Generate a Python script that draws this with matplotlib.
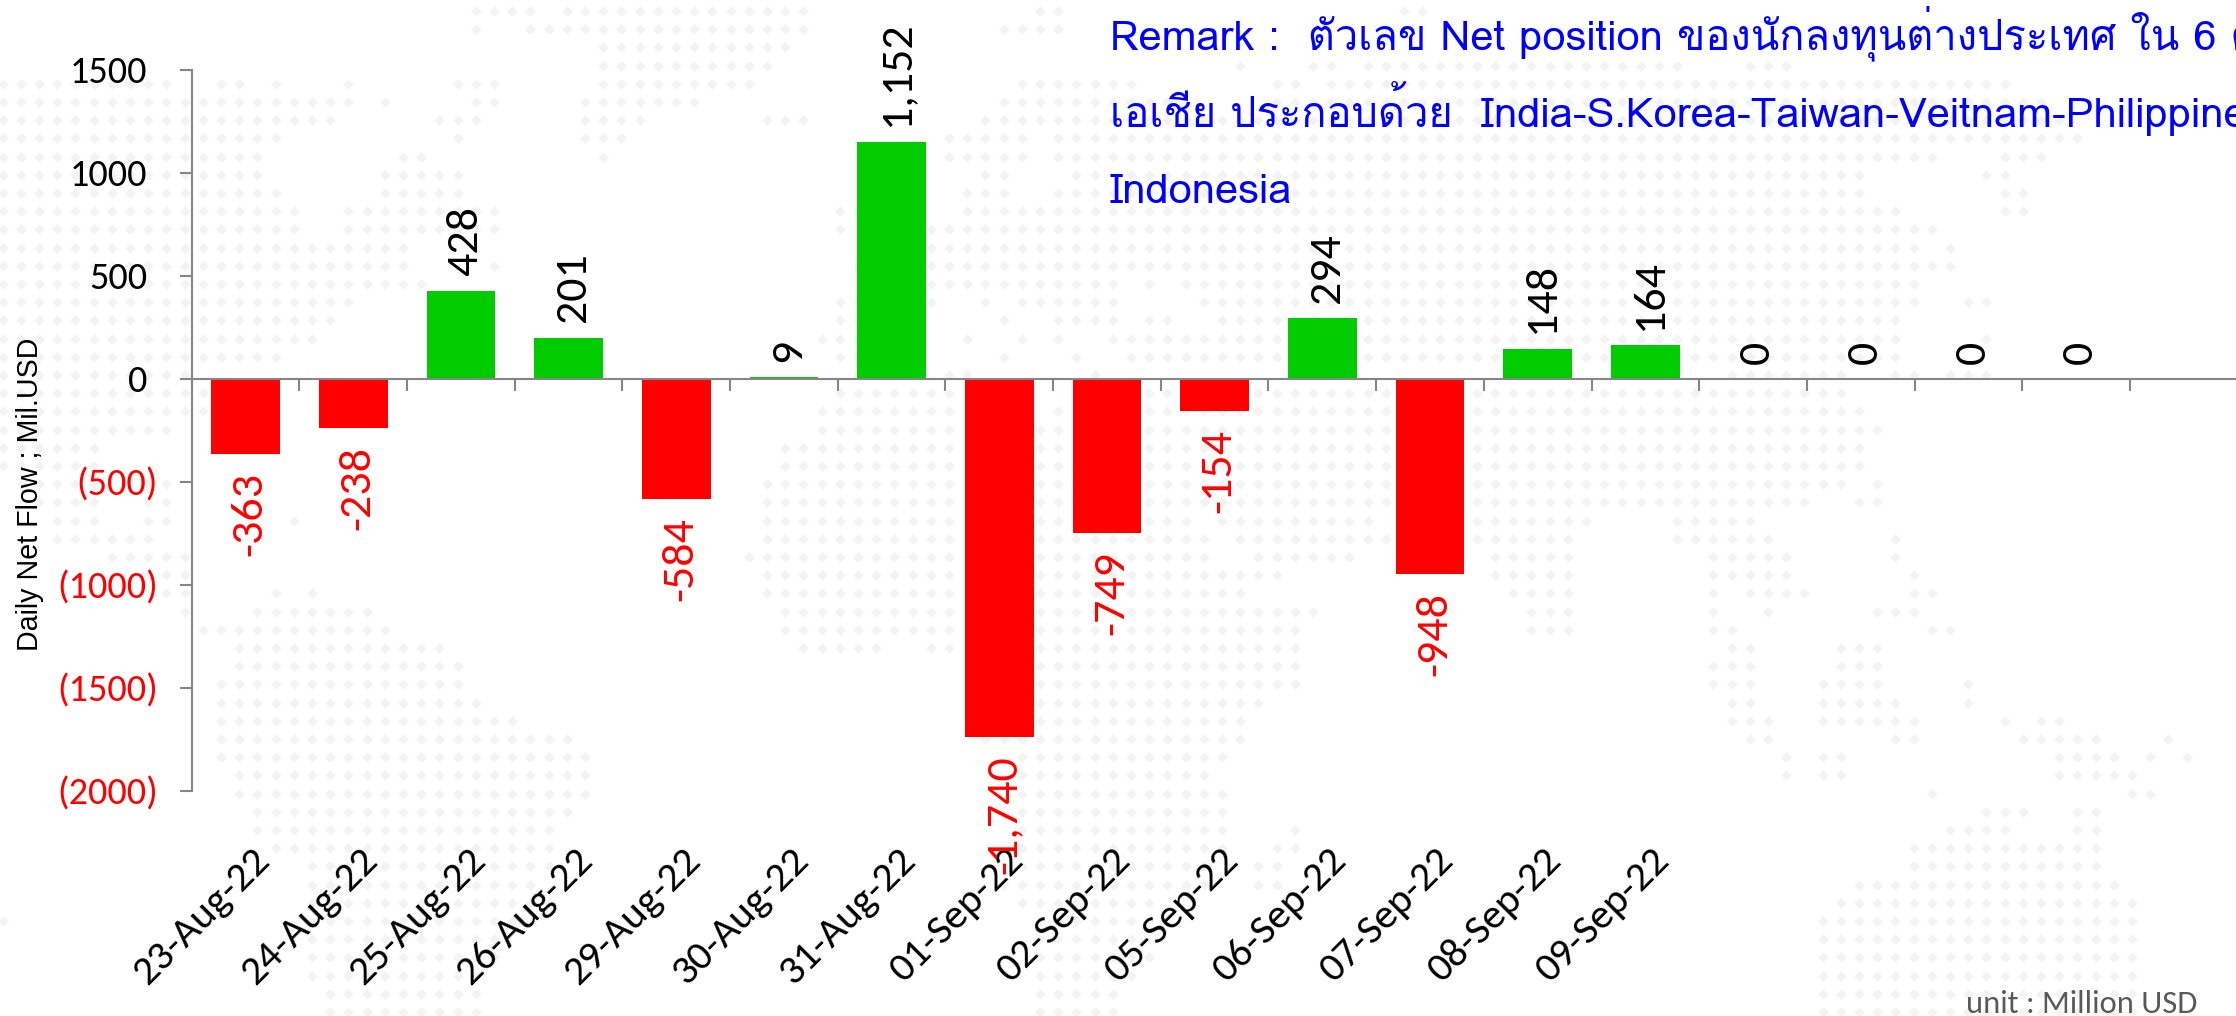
import matplotlib
matplotlib.use("Agg")
import matplotlib.pyplot as plt
import numpy as np
from matplotlib.transforms import ScaledTranslation

dates = ['23-Aug-22', '24-Aug-22', '25-Aug-22', '26-Aug-22', '29-Aug-22', '30-Aug-22', '31-Aug-22',
         '01-Sep-22', '02-Sep-22', '05-Sep-22', '06-Sep-22', '07-Sep-22', '08-Sep-22', '09-Sep-22',
         '', '', '', '']
net_flow = [-363, -238, 428, 201, -584, 9, 1152, -1740, -749, -154, 294, -948, 148, 164, 0, 0, 0, 0]
y_ticks = [1500, 1000, 500, 0, -500, -1000, -1500, -2000]

remark_lines = ['Remark :  ตัวเลข Net position ของนักลงทุนต่างประเทศ ใน 6 ตลาดหุ้น',
                'เอเชีย ประกอบด้วย  India-S.Korea-Taiwan-Veitnam-Philippines-',
                'Indonesia']

# dotted world map behind the chart: (first col, last col) per row of the dot grid
map_rows = [
    [(26, 29), (31, 44), (57, 58), (77, 78)],
    [(26, 26), (29, 44), (55, 58)],
    [(33, 43)],
    [(33, 42), (68, 68), (72, 73), (75, 92), (96, 98)],
    [(0, 9), (12, 13), (15, 15), (19, 19), (25, 27), (33, 41), (56, 62), (70, 71), (73, 110)],
    [(0, 19), (21, 21), (26, 27), (32, 38), (55, 64), (70, 112)],
    [(0, 18), (24, 26), (32, 35), (42, 44), (54, 113)],
    [(0, 15), (25, 25), (32, 34), (52, 56), (58, 114)],
    [(0, 14), (22, 23), (33, 33), (52, 56), (58, 106), (110, 112)],
    [(0, 14), (21, 25), (54, 55), (59, 60), (62, 102), (109, 110)],
    [(0, 15), (21, 25), (53, 55), (58, 102), (110, 111)],
    [(0, 16), (19, 27), (46, 47), (53, 104), (110, 111)],
    [(0, 16), (19, 27), (46, 46), (50, 106)],
    [(0, 22), (50, 105), (107, 107)],
    [(0, 22), (27, 27), (47, 47), (50, 107)],
    [(0, 23), (50, 61), (63, 63), (65, 105)],
    [(0, 19), (46, 47), (50, 51), (54, 54), (56, 61), (66, 105), (108, 109)],
    [(0, 18), (46, 47), (55, 55), (58, 61), (63, 64), (67, 104)],
    [(0, 17), (45, 47), (53, 53), (56, 56), (58, 58), (61, 104), (109, 109)],
    [(0, 15), (46, 47), (55, 55), (59, 59), (62, 104)],
    [(0, 10), (52, 53), (60, 60), (95, 101), (104, 105), (107, 109)],
    [(0, 11), (46, 52), (62, 101)],
    [(0, 11), (45, 52), (58, 58), (62, 102)],
    [(0, 9), (45, 52), (57, 58), (62, 103)],
    [(0, 5), (43, 52), (57, 58), (62, 102)],
    [(0, 5), (43, 52), (57, 102)],
    [(1, 5), (8, 9), (42, 52), (57, 101), (103, 103)],
    [(2, 5), (8, 9), (42, 52), (57, 99), (102, 103)],
    [(3, 5), (8, 9), (16, 16), (42, 52), (57, 61), (63, 65), (67, 75), (81, 87), (92, 96)],
    [(3, 8), (42, 52), (57, 66), (68, 76), (81, 86), (92, 97), (104, 104)],
    [(6, 10), (41, 52), (57, 66), (69, 74), (82, 86), (94, 98), (104, 104)],
    [(8, 10), (42, 52), (57, 70), (82, 86), (94, 98), (105, 105)],
    [(9, 10), (15, 15), (17, 17), (42, 52), (57, 68), (83, 86), (94, 94), (96, 99), (105, 106)],
    [(10, 10), (14, 20), (43, 52), (57, 72), (84, 86), (94, 94), (97, 97), (103, 105)],
    [(11, 21), (43, 52), (57, 71), (84, 86), (94, 95), (106, 107)],
    [(13, 24), (44, 48), (51, 52), (57, 71), (95, 96), (101, 103)],
    [(13, 25), (57, 71), (94, 96), (101, 103)],
    [(12, 25), (57, 71), (94, 96), (100, 103), (108, 108)],
    [(12, 26), (57, 69), (95, 96), (100, 104), (108, 108)],
    [(12, 28), (57, 68), (95, 97), (100, 105), (110, 110), (112, 113)],
    [(12, 31), (54, 68), (96, 97), (104, 105), (111, 115), (119, 119)],
    [(12, 32), (56, 67), (98, 98), (100, 101), (113, 116), (118, 118), (120, 120)],
    [(13, 32), (56, 66), (98, 98), (100, 101), (113, 117)],
    [(13, 32), (56, 67), (106, 106), (117, 118)],
    [(14, 31), (56, 67), (109, 111), (114, 115)],
    [(14, 30), (56, 67), (71, 71), (107, 110), (114, 115)],
    [(15, 30), (56, 67), (70, 71), (105, 115)],
    [(17, 30), (56, 66), (69, 70), (105, 115)],
    [(17, 29), (55, 66), (69, 70), (102, 116)],
    [(17, 30), (56, 63), (101, 117)],
    [(0, 0), (17, 28), (57, 62), (100, 117)],
    [(17, 27), (57, 62), (100, 117)],
    [(17, 27), (57, 63), (100, 117)],
    [(17, 26), (57, 62), (100, 117)],
    [(18, 26), (57, 61), (100, 117)],
    [(18, 26), (57, 61), (100, 117)],
]

W, H = 2236, 1016
plt.rcParams['font.family'] = ['Carlito', 'Open Sans', 'DejaVu Sans']

fig = plt.figure(figsize=(W / 100, H / 100), dpi=100)

# Background dots
bg = fig.add_axes([0, 0, 1, 1], zorder=0)
bg.set_xlim(0, W)
bg.set_ylim(H, 0)
bg.axis('off')
dot_x, dot_y = [], []
for r, spans in enumerate(map_rows):
    for c0, c1 in spans:
        for c in range(c0, c1 + 1):
            dot_x.append(2.5 + 18.2 * c)
            dot_y.append(11 + 18.2 * r)
bg.scatter(dot_x, dot_y, marker='D', s=29, color='#f3f3f3', linewidths=0)

# Chart area
left, right, top, bottom = 191.8, W, 70, 791
ax = fig.add_axes([left / W, 1 - bottom / H, (right - left) / W, (bottom - top) / H], zorder=1)
ax.patch.set_alpha(0)

x = np.arange(len(net_flow)) + 0.5
colors = ['#00cc00' if v >= 0 else '#ff0000' for v in net_flow]
ax.bar(x, net_flow, width=0.64, color=colors, linewidth=0, zorder=2)

ax.set_xlim(0, (right - left) / 107.67)
ax.set_ylim(-2000, 1500)

for side in ['top', 'right']:
    ax.spines[side].set_visible(False)
ax.spines['bottom'].set_position(('data', 0))
for side in ['left', 'bottom']:
    ax.spines[side].set_color('#868686')
    ax.spines[side].set_linewidth(1.5)
    ax.spines[side].set_zorder(3)

ax.set_xticks(np.arange(len(net_flow) + 1))
ax.set_xticklabels([])
ax.tick_params(axis='x', which='major', direction='out', length=8.6, width=1.5, color='#868686')
ax.set_xticks(x, minor=True)
ax.set_xticklabels(dates, minor=True, rotation=45, ha='right', va='center',
                   rotation_mode='anchor', fontsize=30, color='black')
ax.tick_params(axis='x', which='minor', length=0, pad=342)
for lab in ax.get_xticklabels(minor=True):
    lab.set_transform(lab.get_transform() + ScaledTranslation(13 / 72, 0, fig.dpi_scale_trans))

ax.set_yticks(y_ticks)
ax.set_yticklabels([str(v) if v >= 0 else '(%d)' % -v for v in y_ticks], fontsize=27.5)
ax.tick_params(axis='y', direction='out', length=8.6, width=1.5, color='#868686')
for v, tick in zip(y_ticks, ax.yaxis.get_major_ticks()):
    tick.label1.set_color('black' if v >= 0 else '#ff0000')
    tick.set_pad(23.5 if v >= 0 else 16)

# Data labels
for xi, v in zip(x, net_flow):
    if v < 0:
        ax.annotate(format(v, ','), (xi, v), xytext=(3, -13), textcoords='offset points',
                    rotation=90, ha='center', va='top', fontsize=33, color='#ff0000', zorder=4)
    else:
        ax.annotate(format(v, ','), (xi, v), xytext=(3, 11), textcoords='offset points',
                    rotation=90, ha='center', va='bottom', fontsize=33, color='black', zorder=4)

fig.text(30 / W, 1 - 494 / H, 'Daily Net Flow ; Mil.USD', rotation=90, ha='center', va='center',
         fontsize=20.6, family=['Liberation Sans', 'DejaVu Sans'], zorder=5)

for line, base_y in zip(remark_lines, [50, 126.7, 203]):
    fig.text(1110 / W, 1 - base_y / H, line, color='#0000ff', fontsize=30, ha='left', va='baseline',
             family=['Loma', 'Noto Sans Thai', 'Liberation Sans'], zorder=5)

fig.text(2197 / W, 1 - 1013 / H, 'unit : Million USD', color='#595959', fontsize=23.5, ha='right',
         va='baseline', zorder=5)

fig.savefig('out.png', dpi=100)
